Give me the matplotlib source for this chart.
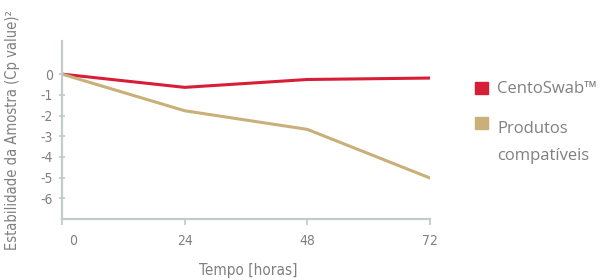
import matplotlib
matplotlib.use("Agg")
import matplotlib.pyplot as plt
import matplotlib.transforms as mtransforms
from matplotlib.patches import Rectangle

# dados
horas = [0, 24, 48, 72]
centoswab = [0, -0.64, -0.26, -0.19]
compativeis = [0, -1.77, -2.67, -5.02]
yticks = [0, -1, -2, -3, -4, -5, -6]
nomes = ["CentoSwab™", "Produtos", "compatíveis"]

COR_VERMELHO = "#D71E36"
COR_BEGE = "#C9AF78"
COR_EIXO = "#C3CCCC"
COR_TEXTO = "#808080"
FONTE_EIXO = ["Liberation Sans Narrow", "DejaVu Sans"]
FONTE_LEGENDA = ["Open Sans", "DejaVu Sans"]

fig = plt.figure(figsize=(6.12, 2.8), dpi=100)
ax = fig.add_axes([62 / 612, 1 - 219 / 280, (430 - 62) / 612, (219 - 41) / 280])

ax.plot(horas, centoswab, color=COR_VERMELHO, lw=2.2, solid_capstyle="round")
ax.plot(horas, compativeis, color=COR_BEGE, lw=2.2, solid_capstyle="round")

ax.set_xlim(0, 72)
ax.set_ylim(-7, 1.6)
ax.set_xticks(horas)
ax.set_yticks(yticks)
ax.set_yticklabels([str(v) for v in yticks])

for lado in ["top", "right"]:
    ax.spines[lado].set_visible(False)
for lado in ["left", "bottom"]:
    ax.spines[lado].set_color(COR_EIXO)
    ax.spines[lado].set_linewidth(1.6)

ax.tick_params(axis="x", colors=COR_EIXO, length=4, width=1.3, pad=7,
               labelcolor=COR_TEXTO, labelsize=10)
ax.tick_params(axis="y", colors=COR_EIXO, length=5, width=1.3, direction="inout",
               pad=4, labelcolor=COR_TEXTO, labelsize=10)
for lbl in ax.get_xticklabels() + ax.get_yticklabels():
    lbl.set_family(FONTE_EIXO)
    lbl.set_stretch("condensed")

# o "0" do eixo x fica um pouco deslocado para a direita
desloc = mtransforms.ScaledTranslation(11 / 100, 0, fig.dpi_scale_trans)
primeiro = ax.get_xticklabels()[0]
primeiro.set_transform(primeiro.get_transform() + desloc)

fig.text(248 / 612, 1 - 271 / 280, "Tempo [horas]", ha="center", va="center",
         color=COR_TEXTO, fontsize=11, family=FONTE_EIXO, fontstretch="condensed")
fig.text(13 / 612, 1 - 130 / 280, "Estabilidade da Amostra (Cp value)²", ha="center",
         va="center", rotation=90, color=COR_TEXTO, fontsize=10.5, family=FONTE_EIXO,
         fontstretch="condensed")

# legenda manual
for cor, y_topo in zip([COR_VERMELHO, COR_BEGE], [82, 117]):
    fig.patches.append(Rectangle((475 / 612, 1 - (y_topo + 12) / 280), 13 / 612, 12 / 280,
                                 transform=fig.transFigure, color=cor))
for nome, base in zip(nomes, [93, 133, 160]):
    fig.text(497 / 612, 1 - base / 280, nome, ha="left", va="baseline",
             color=COR_TEXTO, fontsize=12, family=FONTE_LEGENDA)

fig.savefig("out.png", dpi=100)
